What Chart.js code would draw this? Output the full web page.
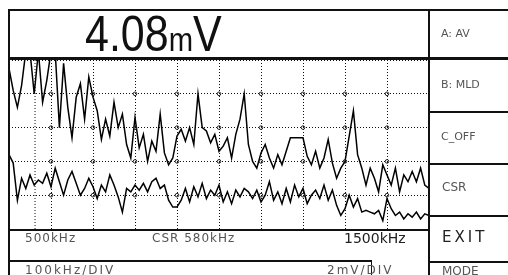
<!DOCTYPE html>
<html>
<head>
<meta charset="utf-8">
<script src="https://cdn.jsdelivr.net/npm/chart.js@4"></script>
<style>
  body { margin: 0; background: #fff; width: 508px; height: 275px; overflow: hidden; position: relative; }
  .ln { position: absolute; background: #111; }
  .t { position: absolute; white-space: nowrap; font-family: "DejaVu Sans", sans-serif; color: #555; line-height: 1; }
  #plot { position: absolute; left: 9px; top: 60px; }
</style>
</head>
<body>
<canvas id="plot" width="420" height="169"></canvas>

<!-- frame -->
<div class="ln" style="left:9px;top:9px;width:499px;height:2px"></div>
<div class="ln" style="left:8px;top:9px;width:2px;height:266px"></div>
<div class="ln" style="left:9px;top:57px;width:499px;height:3px"></div>
<div class="ln" style="left:428px;top:9px;width:2px;height:266px"></div>
<div class="ln" style="left:9px;top:229px;width:420px;height:2px"></div>
<div class="ln" style="left:429px;top:111px;width:79px;height:2px"></div>
<div class="ln" style="left:429px;top:163px;width:79px;height:2px"></div>
<div class="ln" style="left:429px;top:215px;width:79px;height:2px"></div>
<div class="ln" style="left:429px;top:261px;width:79px;height:2px"></div>
<div class="ln" style="left:9px;top:260px;width:363px;height:2px"></div>
<div class="ln" style="left:371px;top:260px;width:1px;height:15px"></div>

<!-- readout -->
<div class="t" style="left:85px;top:9px;font-family:'Liberation Sans',sans-serif;font-size:50px;color:#111;transform:scaleX(0.86);transform-origin:left top">4.08<span style="font-size:34px">m</span>V</div>

<!-- menu -->
<div class="t" style="left:441px;top:28px;font-size:11px">A: AV</div>
<div class="t" style="left:441px;top:79px;font-size:11px">B: MLD</div>
<div class="t" style="left:441px;top:131px;font-size:11px">C_OFF</div>
<div class="t" style="left:442px;top:181px;font-size:12px">CSR</div>
<div class="t" style="left:442px;top:230px;font-size:15px;color:#222;letter-spacing:3px">EXIT</div>
<div class="t" style="left:442px;top:265px;font-size:12px">MODE</div>

<!-- bottom labels -->
<div class="t" style="left:25px;top:232px;font-size:12px;letter-spacing:1px">500kHz</div>
<div class="t" style="left:152px;top:232px;font-size:12px;letter-spacing:1px">CSR 580kHz</div>
<div class="t" style="left:344px;top:231px;font-size:14px;color:#222">1500kHz</div>
<div class="t" style="left:25px;top:264px;font-size:12px;letter-spacing:2px">100kHz/DIV</div>
<div class="t" style="left:327px;top:264px;font-size:12px;letter-spacing:2px">2mV/DIV</div>

<script>
// frequency points (kHz), 10 kHz apart
const freqs = [500, 510, 520, 530, 540, 550, 560, 570, 580, 590,
  600, 610, 620, 630, 640, 650, 660, 670, 680, 690,
  700, 710, 720, 730, 740, 750, 760, 770, 780, 790,
  800, 810, 820, 830, 840, 850, 860, 870, 880, 890,
  900, 910, 920, 930, 940, 950, 960, 970, 980, 990,
  1000, 1010, 1020, 1030, 1040, 1050, 1060, 1070, 1080, 1090,
  1100, 1110, 1120, 1130, 1140, 1150, 1160, 1170, 1180, 1190,
  1200, 1210, 1220, 1230, 1240, 1250, 1260, 1270, 1280, 1290,
  1300, 1310, 1320, 1330, 1340, 1350, 1360, 1370, 1380, 1390,
  1400, 1410, 1420, 1430, 1440, 1450, 1460, 1470, 1480, 1490, 1500];

// upper trace (mV)
const traceA = [9.5, 8.2, 7.2, 8.5, 10.5, 10.5, 8.0, 10.5, 7.5, 8.8,
  10.5, 10.5, 6.0, 9.8, 7.2, 5.4, 7.8, 8.6, 6.5, 9.0,
  7.8, 7.0, 5.3, 6.5, 5.5, 7.5, 6.0, 6.8, 5.0, 4.2,
  6.6, 4.8, 5.6, 4.0, 5.2, 4.6, 6.8, 4.5, 3.8, 4.2,
  5.5, 5.9, 5.2, 6.0, 5.0, 8.0, 6.0, 5.8, 5.1, 5.6,
  4.6, 4.9, 5.4, 4.2, 5.6, 6.5, 8.0, 5.0, 4.0, 3.6,
  4.5, 5.0, 4.2, 3.6, 4.4, 3.8, 4.6, 5.4, 5.4, 5.4,
  5.4, 4.3, 3.8, 4.6, 3.6, 4.2, 5.3, 3.9, 3.0, 3.6,
  4.0, 5.5, 7.0, 4.4, 3.6, 2.6, 3.6, 3.0, 2.2, 3.8,
  3.2, 2.6, 3.6, 2.2, 3.2, 2.8, 3.4, 2.8, 3.6, 2.6, 2.4];

// lower trace (mV)
const traceB = [4.4, 3.9, 1.7, 3.0, 2.4, 3.2, 2.6, 2.9, 2.7, 3.3,
  2.5, 3.6, 2.8, 2.0, 2.9, 3.4, 2.7, 2.0, 2.4, 3.0,
  2.5, 1.8, 2.6, 2.2, 3.2, 2.6, 1.9, 1.0, 2.4, 2.2,
  2.6, 2.3, 2.7, 2.2, 2.8, 3.0, 2.4, 2.6, 1.7, 1.3,
  1.3, 1.7, 2.4, 1.6, 2.5, 1.9, 2.7, 1.8, 2.3, 2.0,
  2.6, 1.6, 2.2, 1.5, 2.3, 1.9, 2.4, 2.2, 1.8, 2.3,
  1.6, 2.0, 2.8, 1.7, 2.2, 1.5, 2.4, 1.6, 2.6, 1.9,
  2.4, 1.5, 2.0, 2.3, 1.8, 2.6, 1.7, 2.3, 1.4, 0.8,
  1.2, 2.0, 1.3, 1.8, 1.0, 1.1, 1.0, 0.9, 1.1, 0.5,
  1.8, 1.2, 0.8, 1.0, 0.6, 0.9, 0.7, 1.0, 0.6, 0.9, 0.8];

// cursor position (kHz) and axis setup
const cursorFreq = 562;
const xRange = [500, 1500];
const yRange = [0, 10];
const xStep = 100;
const yStep = 2;

function pts(arr) {
  return arr.map((v, i) => ({ x: freqs[i], y: v }));
}

// small circles where grid lines cross
const crossMarks = {
  id: "crossMarks",
  afterDatasetsDraw(chart) {
    const { ctx, scales } = chart;
    ctx.save();
    ctx.strokeStyle = "#222";
    ctx.fillStyle = "#fff";
    ctx.lineWidth = 1;
    for (let f = xRange[0] + xStep; f < xRange[1]; f += xStep) {
      for (let v = yRange[0] + yStep; v < yRange[1]; v += yStep) {
        ctx.beginPath();
        ctx.arc(scales.x.getPixelForValue(f), scales.y.getPixelForValue(v), 1.8, 0, Math.PI * 2);
        ctx.stroke();
      }
    }
    ctx.restore();
  }
};

new Chart(document.getElementById("plot"), {
  type: "line",
  data: {
    datasets: [
      { data: pts(traceA), borderColor: "#000", borderWidth: 1.5, pointRadius: 0, tension: 0 },
      { data: pts(traceB), borderColor: "#000", borderWidth: 1.5, pointRadius: 0, tension: 0 },
      {
        data: [{ x: cursorFreq, y: yRange[0] }, { x: cursorFreq, y: yRange[1] }],
        borderColor: "#111", borderWidth: 1, borderDash: [1, 2], pointRadius: 0
      }
    ]
  },
  options: {
    responsive: false,
    animation: false,
    devicePixelRatio: 1,
    layout: { padding: 0 },
    plugins: { legend: { display: false }, tooltip: { enabled: false } },
    scales: {
      x: {
        type: "linear", min: xRange[0], max: xRange[1],
        ticks: { display: false, stepSize: xStep },
        grid: { color: "#111", lineWidth: 1, drawTicks: false },
        border: { display: false, dash: [1, 2] }
      },
      y: {
        min: yRange[0], max: yRange[1],
        ticks: { display: false, stepSize: yStep },
        grid: { color: "#111", lineWidth: 1, drawTicks: false },
        border: { display: false, dash: [1, 2] }
      }
    }
  },
  plugins: [crossMarks]
});
</script>
</body>
</html>
